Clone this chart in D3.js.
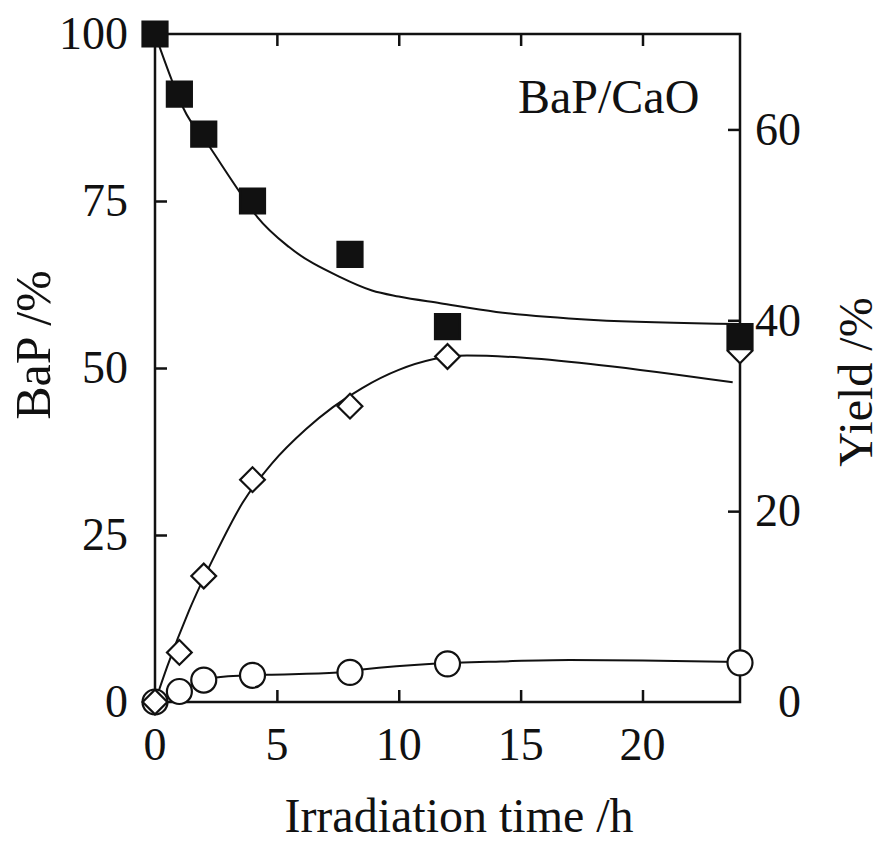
<!DOCTYPE html>
<html>
<head>
<meta charset="utf-8">
<script src="https://cdn.jsdelivr.net/npm/d3@7"></script>
<style>
  body { margin: 0; background: #fff; }
  svg text { font-family: "Liberation Serif", "DejaVu Serif", serif; fill: #111; }
</style>
</head>
<body>
<svg id="chart" width="882" height="852"></svg>
<script>
// measured points
var times = [0, 1, 2, 4, 8, 12, 24];
var bapLeft = [100, 91, 85, 75, 67, 56.2, 54.7];          // filled squares, left axis
var yieldDiamond = [0, 5.2, 13.2, 23.3, 31.0, 36.2, 36.8]; // open diamonds, right axis
var yieldCircle = [0, 1.1, 2.3, 2.8, 3.1, 4.0, 4.1];      // open circles, right axis

// hand-drawn fit curves
var bapFitT = [0, 0.7, 1.15, 2.26, 3.5, 4.2, 5.5, 7.6, 8.9, 10, 11.7, 14, 18, 24];
var bapFitV = [100, 93, 89, 83, 76.2, 72.6, 68.1, 63.6, 61.6, 60.7, 59.7, 58.4, 57.2, 56.6];
var diaFitT = [0, 0.5, 1.4, 2.5, 3.6, 4.8, 6.2, 7.3, 8.5, 10, 12.8, 15, 18.3, 23.7];
var diaFitV = [0, 3.7, 9.6, 15.6, 20.9, 25.0, 28.6, 30.9, 32.9, 34.8, 36.3, 36.1, 35.3, 33.5];
var cirFitT = [0, 0.5, 1, 2, 3, 4.6, 7.5, 8.5, 11.4, 14.2, 17, 20, 24];
var cirFitV = [0, 0.5, 1.1, 2.3, 2.7, 2.85, 3.1, 3.4, 4.0, 4.25, 4.4, 4.35, 4.2];

var xTicks = [5, 10, 15, 20];
var xLabels = [0, 5, 10, 15, 20];
var leftTicks = [0, 25, 50, 75, 100];
var rightTicks = [0, 20, 40, 60];

var svg = d3.select("#chart");
var ink = "#111";

var x = d3.scaleLinear().domain([0, 24]).range([155, 740]),
    yL = d3.scaleLinear().domain([0, 100]).range([702, 34]),
    yR = d3.scaleLinear().domain([0, 70]).range([702, 34]);

var fontSize = 46;

/*
* Frame and axes (ticks point inward)
*/
svg.append("rect")
  .attr("x", x(0)).attr("y", yL(100))
  .attr("width", x(24) - x(0)).attr("height", yL(0) - yL(100))
  .attr("fill", "none").attr("stroke", ink).attr("stroke-width", 2.5);

function styleAxis(g) {
  g.select(".domain").remove();
  g.selectAll(".tick line").attr("stroke", ink).attr("stroke-width", 2.5);
  g.selectAll("text").attr("font-size", fontSize).attr("fill", ink)
    .attr("font-family", "Liberation Serif, serif");
}

// bottom
svg.append("g").attr("transform", "translate(0," + yL(0) + ")")
  .call(d3.axisBottom(x).tickValues(xTicks).tickSize(-12).tickFormat(""))
  .call(styleAxis);
svg.append("g").selectAll("text").data(xLabels).enter().append("text")
  .attr("x", function(d) { return x(d); })
  .attr("y", 760)
  .attr("text-anchor", "middle")
  .attr("font-size", fontSize)
  .text(function(d) { return d; });

// top
svg.append("g").attr("transform", "translate(0," + yL(100) + ")")
  .call(d3.axisTop(x).tickValues(xTicks).tickSize(-12).tickFormat(""))
  .call(styleAxis);

// left
var gl = svg.append("g").attr("transform", "translate(" + x(0) + ",0)")
  .call(d3.axisLeft(yL).tickValues(leftTicks).tickSize(-12).tickPadding(27))
  .call(styleAxis);
gl.selectAll(".tick line").filter(function(d) { return d === 0 || d === 100; }).remove();

// right
var gr = svg.append("g").attr("transform", "translate(" + x(24) + ",0)")
  .call(d3.axisRight(yR).tickValues(rightTicks).tickSize(-12))
  .call(styleAxis);
gr.selectAll(".tick line").filter(function(d) { return d === 0; }).remove();
gr.selectAll("text").attr("text-anchor", "end").attr("x", 61);

// axis titles
svg.append("text")
  .attr("transform", "translate(50,345) rotate(-90)")
  .attr("text-anchor", "middle")
  .attr("font-size", 50)
  .text("BaP /%");

svg.append("text")
  .attr("transform", "translate(872,382) rotate(-90)")
  .attr("text-anchor", "middle")
  .attr("font-size", 48)
  .text("Yield /%");

svg.append("text")
  .attr("x", 459).attr("y", 832)
  .attr("text-anchor", "middle")
  .attr("font-size", 48)
  .text("Irradiation time /h");

svg.append("text")
  .attr("x", 518).attr("y", 113)
  .attr("font-size", 48)
  .text("BaP/CaO");

/*
* Fit curves
*/
function drawCurve(ts, vs, yScale) {
  var pts = ts.map(function(t, i) { return [x(t), yScale(vs[i])]; });
  svg.append("path")
    .attr("d", d3.line().curve(d3.curveMonotoneX)(pts))
    .attr("fill", "none")
    .attr("stroke", ink)
    .attr("stroke-width", 2);
}
drawCurve(bapFitT, bapFitV, yL);
drawCurve(diaFitT, diaFitV, yR);
drawCurve(cirFitT, cirFitV, yR);

/*
* Markers
*/
function drawMarkers(vals, yScale, type, size, fill, rot) {
  svg.append("g").selectAll("path")
    .data(vals)
    .enter().append("path")
    .attr("d", d3.symbol().type(type).size(size))
    .attr("transform", function(d, i) {
      return "translate(" + x(times[i]) + "," + yScale(d) + ") rotate(" + rot + ")";
    })
    .attr("fill", fill)
    .attr("stroke", ink)
    .attr("stroke-width", 2.2);
}
drawMarkers(yieldCircle, yR, d3.symbolCircle, Math.PI * 12.5 * 12.5, "#fff", 0);
drawMarkers(yieldDiamond, yR, d3.symbolSquare, 17.5 * 17.5, "#fff", 45);
drawMarkers(bapLeft, yL, d3.symbolSquare, 25 * 25, ink, 0);
</script>
</body>
</html>
